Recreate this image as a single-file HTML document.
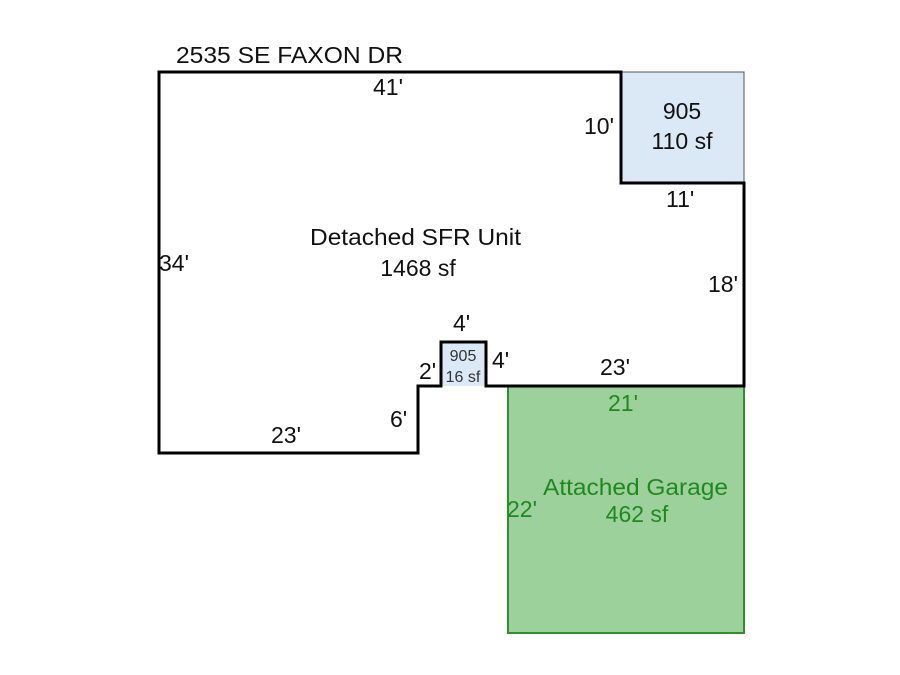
<!DOCTYPE html>
<html><head><style>body{margin:0;background:#fff}svg{display:block}</style></head>
<body>
<svg width="900" height="675" viewBox="0 0 900 675" xmlns="http://www.w3.org/2000/svg" font-family="Liberation Sans, Arial, sans-serif">
<rect x="621" y="72" width="123" height="111" fill="#dbe8f5" stroke="#555" stroke-width="1"/>
<rect x="441" y="342" width="45" height="44" fill="#dbe8f5"/>
<rect x="508" y="386" width="236" height="247" fill="#9dd19b" stroke="#2f8f2f" stroke-width="2"/>
<path d="M159,72 H621 V183 H744 V386 H486 V342 H441 V386 H418 V453 H159 Z" fill="none" stroke="#000" stroke-width="3" stroke-linejoin="miter"/>
<g font-size="23" fill="#111">
<text x="176" y="63" textLength="227" lengthAdjust="spacingAndGlyphs">2535 SE FAXON DR</text>
<text x="373" y="95">41'</text>
<text x="584" y="134">10'</text>
<text x="666" y="207">11'</text>
<text x="708" y="292">18'</text>
<text x="159" y="271">34'</text>
<text x="310" y="245" textLength="211" lengthAdjust="spacingAndGlyphs">Detached SFR Unit</text>
<text x="418" y="276" text-anchor="middle">1468 sf</text>
<text x="453" y="331">4'</text>
<text x="419" y="379">2'</text>
<text x="492" y="368">4'</text>
<text x="600" y="375">23'</text>
<text x="390" y="427">6'</text>
<text x="271" y="443">23'</text>
<text x="682" y="119" text-anchor="middle">905</text>
<text x="682" y="149" text-anchor="middle">110 sf</text>
</g>
<text x="463" y="361" font-size="16" fill="#333" text-anchor="middle">905</text>
<text x="463" y="382" font-size="16" fill="#333" text-anchor="middle">16 sf</text>
<g font-size="23" fill="#1e8a1e">
<text x="608" y="411">21'</text>
<text x="543" y="495" textLength="185" lengthAdjust="spacingAndGlyphs">Attached Garage</text>
<text x="637" y="522" text-anchor="middle">462 sf</text>
<text x="507" y="517">22'</text>
</g>
</svg>
</body></html>
